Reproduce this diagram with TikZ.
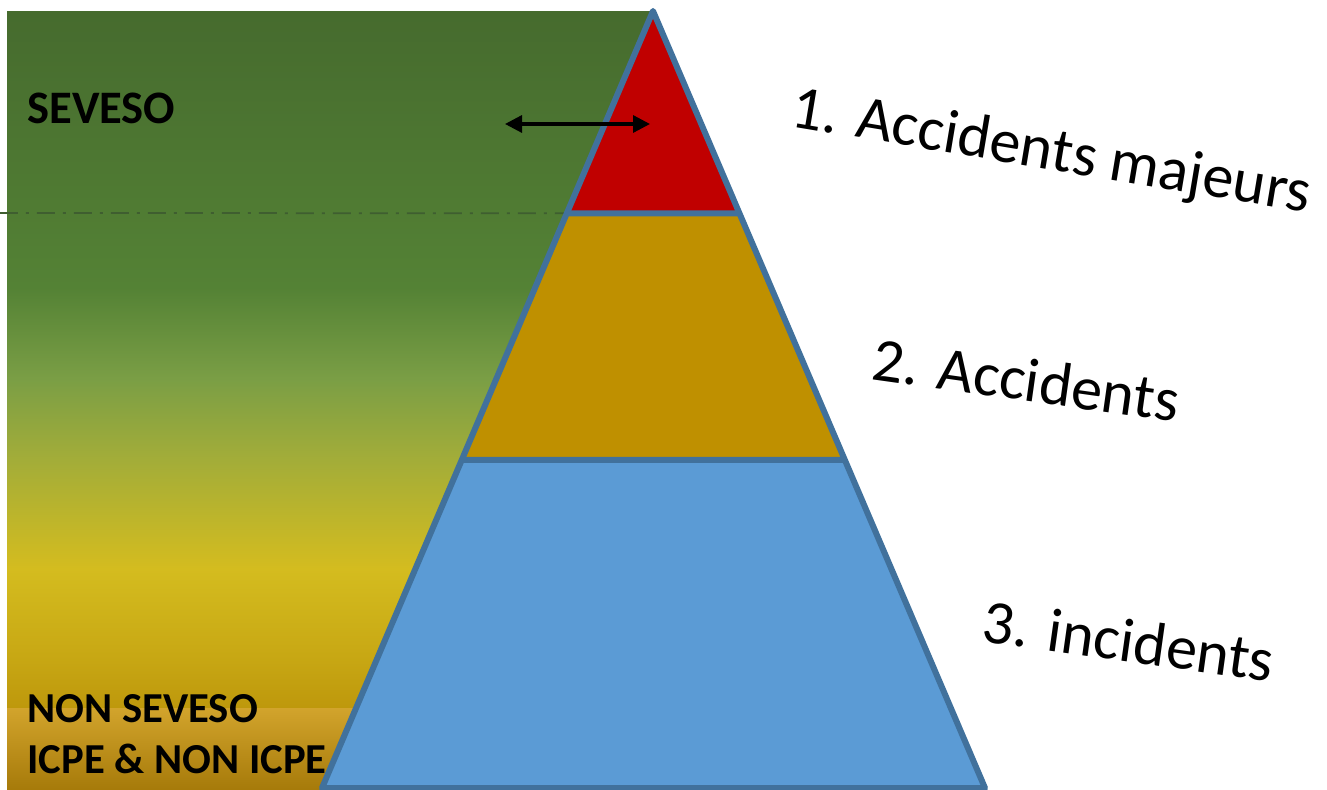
\documentclass[tikz,border=0pt]{standalone}
\usepackage{fontspec}
\setmainfont{Carlito}
\usetikzlibrary{positioning,calc,arrows.meta}

\definecolor{gTop}{HTML}{466B2E}
\definecolor{gGreen}{HTML}{548235}
\definecolor{gOlive}{HTML}{7A9E45}
\definecolor{gKhaki}{HTML}{A0AC3A}
\definecolor{gYellow}{HTML}{D4BC1F}
\definecolor{gMustard}{HTML}{C8A814}
\definecolor{gBot}{HTML}{BE980C}
\definecolor{bandTop}{HTML}{D2A42C}
\definecolor{bandBot}{HTML}{A67A0A}
\definecolor{sepGreen}{HTML}{3F5E30}
\definecolor{topRed}{HTML}{C00000}
\definecolor{midGold}{HTML}{BF9000}
\definecolor{lowBlue}{HTML}{5B9BD5}
\definecolor{pyrEdge}{HTML}{41719C}

\pgfdeclareverticalshading{sevesoShade}{100bp}{color(0bp)=(gBot); color(25bp)=(gBot);
  color(28.8bp)=(gMustard); color(35bp)=(gYellow); color(43.3bp)=(gKhaki);
  color(48.7bp)=(gOlive); color(55.2bp)=(gGreen); color(75bp)=(gTop); color(100bp)=(gTop)}

\tikzset{
  pyr/.style={draw=pyrEdge, line width=0.12cm, line join=round},
  sepline/.style={draw=sepGreen, line width=0.035cm, dash pattern=on 0.36cm off 0.16cm on 0.06cm off 0.16cm},
  sidelbl/.style={font=\bfseries\fontsize{24.3}{29}\selectfont, inner sep=0pt, anchor=base west},
  lvl/.style={font=\fontsize{35.3}{42}\selectfont, inner sep=0pt, anchor=base west}
}

\begin{document}
\begin{tikzpicture}[x=0.02cm,y=-0.02cm]
  \def\cutA{0.2603} % first cut along the sides
  \def\cutB{0.5776} % second cut along the sides
  \useasboundingbox (0,0) rectangle (1327,790);
  % background behind the pyramid
  \shade[shading=sevesoShade] (7,12) rectangle (652,708);
  \shade[top color=bandTop, bottom color=bandBot] (7,708) rectangle (652,790);
  % pyramid corners
  \coordinate (apex) at (653,11);
  \coordinate (bl) at (322,788);
  \coordinate (br) at (985,788);
  \coordinate (l1) at ($(apex)!\cutA!(bl)$);
  \coordinate (r1) at ($(apex)!\cutA!(br)$);
  \coordinate (l2) at ($(apex)!\cutB!(bl)$);
  \coordinate (r2) at ($(apex)!\cutB!(br)$);
  % dash-dot limit
  \coordinate (sepL) at (0,213);
  \draw[sepline] (sepL) -- (l1);
  % the three layers
  \fill[topRed] (apex) -- (l1) -- (r1) -- cycle;
  \fill[midGold] (l1) -- (l2) -- (r2) -- (r1) -- cycle;
  \fill[lowBlue] (l2) -- (bl) -- (br) -- (r2) -- cycle;
  \draw[pyr] (apex) -- (bl) -- (br) -- cycle (l1) -- (r1) (l2) -- (r2);
  % double arrow
  \coordinate (arrL) at (505,124);
  \coordinate (arrR) at (650,124);
  \draw[line width=0.065cm, {Triangle[length=0.34cm,width=0.34cm]}-{Triangle[length=0.34cm,width=0.34cm]}] (arrL) -- (arrR);
  % texts
  \node[sidelbl, font=\bfseries\fontsize{26.5}{30}\selectfont] (seveso) at (27,124) {SEVESO};
  \node[sidelbl] (nonsev) at (27,722) {NON SEVESO};
  \node[sidelbl] (icpe) at (27,773) {ICPE \& NON ICPE};
  \node[lvl, rotate=-9.5] (lvl1) at (789,126) {1. Accidents majeurs};
  \node[lvl, rotate=-8] (lvl2) at (870,379) {2. Accidents};
  \node[lvl, rotate=-8] (lvl3) at (980,641) {3. incidents};
\end{tikzpicture}
\end{document}
